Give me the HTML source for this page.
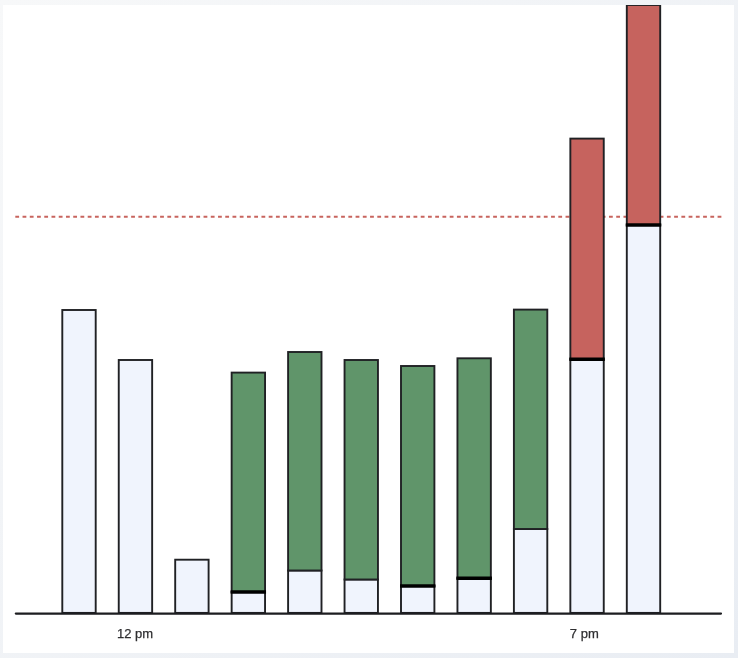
<!DOCTYPE html>
<html lang="en"><head><meta charset="utf-8"><title>Chart</title>
<style>
html,body{margin:0;padding:0}
body{width:738px;height:658px;overflow:hidden;background:linear-gradient(135deg,#f7f8f9 0%,#e9edf3 100%);position:relative;font-family:"Liberation Sans",sans-serif}
.panel{position:absolute;left:3px;top:5px;width:731px;height:648px;background:#fff;overflow:hidden}
svg{position:absolute;left:-3px;top:-5px}
text{font-family:"Liberation Sans",sans-serif;font-size:13px;fill:#2f2f31;stroke:#2f2f31;stroke-width:0.25px}
</style></head><body>
<div class="panel">
<svg width="738" height="658" viewBox="0 0 738 658">
<line x1="15.3" y1="216.8" x2="721.4" y2="216.8" stroke="#c8645e" stroke-width="1.9" stroke-dasharray="3.8 3.44"/>
<g stroke="#202124" stroke-width="1.9">
<rect x="62.3" y="310" width="33.4" height="302.9" fill="#f0f4fd"/>
<rect x="118.75" y="360" width="33.4" height="252.9" fill="#f0f4fd"/>
<rect x="175.2" y="559.7" width="33.4" height="53.2" fill="#f0f4fd"/>
<rect x="231.65" y="592" width="33.4" height="20.9" fill="#f0f4fd"/>
<rect x="231.65" y="372.6" width="33.4" height="219.4" fill="#60956a"/>
<line x1="230.65" y1="592" x2="266.05" y2="592" stroke="#000" stroke-width="3.6"/>
<rect x="288.1" y="570.5" width="33.4" height="42.4" fill="#f0f4fd"/>
<rect x="288.1" y="352" width="33.4" height="218.5" fill="#60956a"/>
<rect x="344.55" y="579.5" width="33.4" height="33.4" fill="#f0f4fd"/>
<rect x="344.55" y="360" width="33.4" height="219.5" fill="#60956a"/>
<rect x="401.0" y="586" width="33.4" height="26.9" fill="#f0f4fd"/>
<rect x="401.0" y="366" width="33.4" height="220.0" fill="#60956a"/>
<line x1="400.0" y1="586" x2="435.4" y2="586" stroke="#000" stroke-width="3.6"/>
<rect x="457.45" y="578.3" width="33.4" height="34.6" fill="#f0f4fd"/>
<rect x="457.45" y="358.3" width="33.4" height="220.0" fill="#60956a"/>
<line x1="456.45" y1="578.3" x2="491.84999999999997" y2="578.3" stroke="#000" stroke-width="3.6"/>
<rect x="513.9" y="529" width="33.4" height="83.9" fill="#f0f4fd"/>
<rect x="513.9" y="309.6" width="33.4" height="219.4" fill="#60956a"/>
<rect x="570.35" y="359.2" width="33.4" height="253.7" fill="#f0f4fd"/>
<rect x="570.35" y="138.6" width="33.4" height="220.6" fill="#c6635e"/>
<line x1="569.35" y1="359.2" x2="604.75" y2="359.2" stroke="#000" stroke-width="3.6"/>
<rect x="626.8" y="225" width="33.4" height="387.9" fill="#f0f4fd"/>
<rect x="626.8" y="5" width="33.4" height="220.0" fill="#c6635e"/>
<line x1="625.8" y1="225" x2="661.1999999999999" y2="225" stroke="#000" stroke-width="3.6"/>
</g>
<line x1="15.8" y1="613.6" x2="721" y2="613.6" stroke="#1c1d20" stroke-width="2.2" stroke-linecap="round"/>
<text x="135" y="637.8" text-anchor="middle">12 pm</text>
<text x="584.3" y="637.8" text-anchor="middle">7 pm</text>
</svg></div></body></html>
